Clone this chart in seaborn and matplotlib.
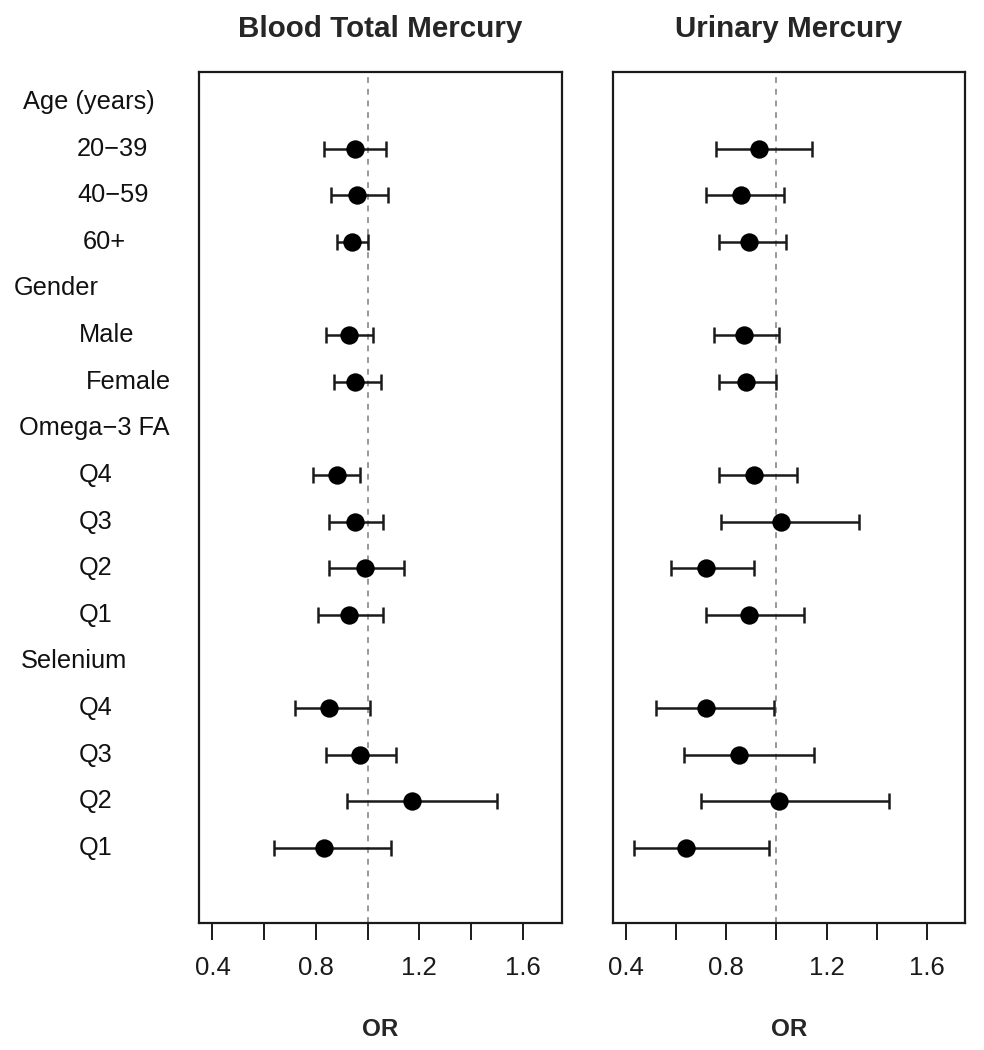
import numpy as np
import pandas as pd
import seaborn as sns
import matplotlib.pyplot as plt
from matplotlib.transforms import blended_transform_factory

# rows from top to bottom
row_labels = ['Age (years)', '20−39', '40−59', '60+', 'Gender', 'Male', 'Female',
              'Omega−3 FA', 'Q4', 'Q3', 'Q2', 'Q1', 'Selenium', 'Q4', 'Q3', 'Q2', 'Q1']
is_header = [True, False, False, False, True, False, False,
             True, False, False, False, False, True, False, False, False, False]

# blood total mercury (nan for header rows)
blood_or = [np.nan, 0.95, 0.96, 0.94, np.nan, 0.93, 0.95,
            np.nan, 0.88, 0.95, 0.99, 0.93, np.nan, 0.85, 0.97, 1.17, 0.83]
blood_lo = [np.nan, 0.83, 0.86, 0.88, np.nan, 0.84, 0.87,
            np.nan, 0.79, 0.85, 0.85, 0.81, np.nan, 0.72, 0.84, 0.92, 0.64]
blood_hi = [np.nan, 1.07, 1.08, 1.00, np.nan, 1.02, 1.05,
            np.nan, 0.97, 1.06, 1.14, 1.06, np.nan, 1.01, 1.11, 1.50, 1.09]

# urinary mercury
urine_or = [np.nan, 0.93, 0.86, 0.89, np.nan, 0.87, 0.88,
            np.nan, 0.91, 1.02, 0.72, 0.89, np.nan, 0.72, 0.85, 1.01, 0.64]
urine_lo = [np.nan, 0.76, 0.72, 0.77, np.nan, 0.75, 0.77,
            np.nan, 0.77, 0.78, 0.58, 0.72, np.nan, 0.52, 0.63, 0.70, 0.43]
urine_hi = [np.nan, 1.14, 1.03, 1.04, np.nan, 1.01, 1.00,
            np.nan, 1.08, 1.33, 0.91, 1.11, np.nan, 0.99, 1.15, 1.45, 0.97]

panels = ['Blood Total Mercury', 'Urinary Mercury']
x_ticks = [0.4, 0.6, 0.8, 1.0, 1.2, 1.4, 1.6]
x_ticklabels = ['0.4', '', '0.8', '', '1.2', '', '1.6']

frames = []
for name, o, lo, hi in [(panels[0], blood_or, blood_lo, blood_hi),
                        (panels[1], urine_or, urine_lo, urine_hi)]:
    frames.append(pd.DataFrame({'panel': name, 'row': np.arange(len(row_labels)),
                                'OR': o, 'lo': lo, 'hi': hi}))
df = pd.concat(frames, ignore_index=True)

sns.set_style('white')
plt.rcParams['font.family'] = ['Liberation Sans', 'DejaVu Sans']

W, H = 984, 1050
fig = plt.figure(figsize=(W / 100, H / 100), dpi=100)
axes = [fig.add_axes([199 / W, 127 / H, 363 / W, 851 / H]),
        fig.add_axes([613 / W, 127 / H, 352 / W, 851 / H])]

for ax, name in zip(axes, panels):
    d = df[(df['panel'] == name) & df['OR'].notna()]
    ax.axvline(1.0, color='#999999', ls=(0, (3, 3)), lw=1.4, zorder=1)
    ax.errorbar(d['OR'], d['row'], xerr=[d['OR'] - d['lo'], d['hi'] - d['OR']],
                fmt='none', ecolor='#1a1a1a', elinewidth=1.8, capsize=6, capthick=1.8, zorder=2)
    sns.scatterplot(data=d, x='OR', y='row', ax=ax, color='black', s=175,
                    edgecolor='black', linewidth=0, zorder=3, legend=False)
    ax.set_xlim(0.348, 1.752)
    ax.set_ylim(17.61, -0.643)
    ax.set_yticks([])
    ax.set_xticks(x_ticks)
    ax.set_xticklabels(x_ticklabels, fontsize=18.5)
    ax.tick_params(axis='x', direction='out', length=12, width=1.4, pad=12,
                   bottom=True, colors='#1a1a1a')
    ax.set_xlabel('OR', fontsize=17.5, fontweight='bold', labelpad=27)
    ax.set_ylabel('')
    ax.set_title(name, fontsize=21.3, fontweight='bold', pad=25)
    for s in ax.spines.values():
        s.set_visible(True)
        s.set_color('#1a1a1a')
        s.set_linewidth(1.6)

# row labels to the left of the first panel
label_px = [23, 77, 77, 83, 14, 79, 86, 19, 79, 79, 79, 79, 21, 79, 79, 79, 79]
tr = blended_transform_factory(fig.transFigure, axes[0].transData)
for i, lab in enumerate(row_labels):
    fig.text(label_px[i] / W, i, lab, transform=tr, fontsize=18.3,
             ha='left', va='center', color='#111111')

fig.savefig('out.png', dpi=100)
